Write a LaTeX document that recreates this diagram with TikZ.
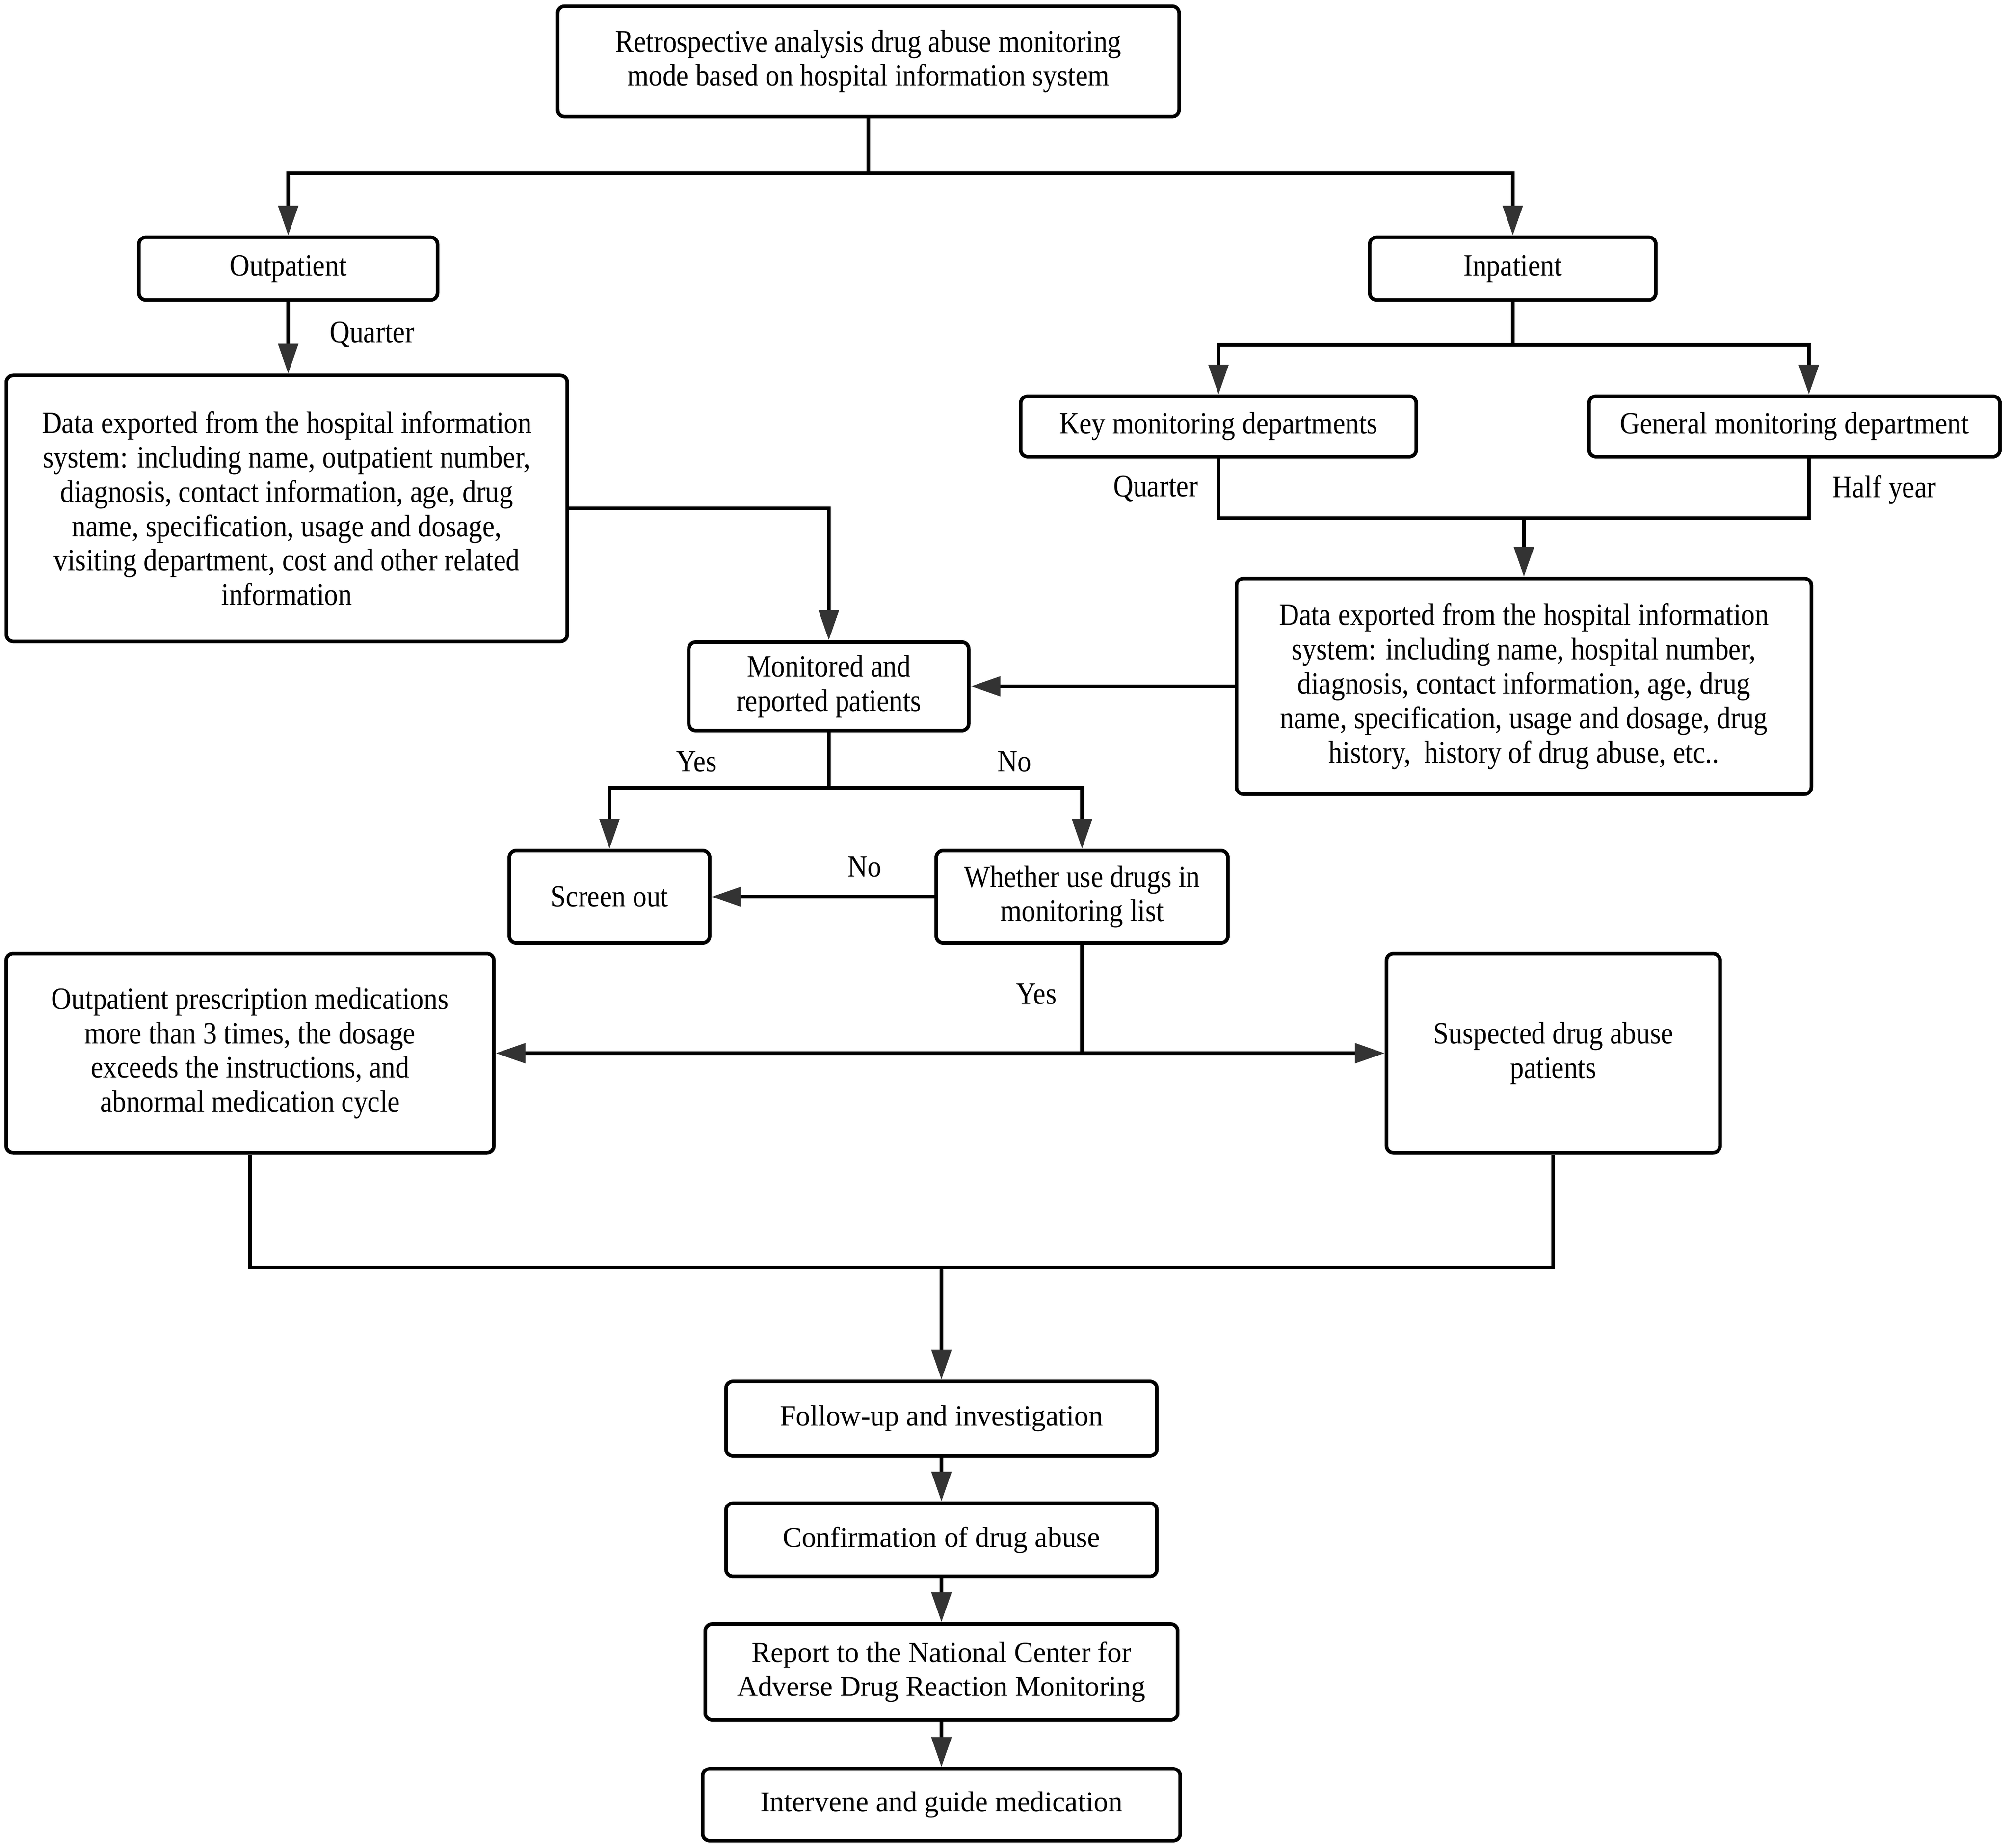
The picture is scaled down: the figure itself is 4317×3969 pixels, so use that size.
\documentclass[tikz,border=0pt]{standalone}
\usepackage{fontspec}
\setmainfont[FakeStretch=0.89]{Liberation Serif}
\newfontfamily\plainserif{Liberation Serif}
\usetikzlibrary{arrows.meta}
\definecolor{tipgray}{HTML}{333333}
\begin{document}
\begin{tikzpicture}[x=0.01cm,y=-0.01cm,
  box/.style={draw=black,line width=2.2pt,rounded corners=0.15cm,align=center,inner sep=0pt,
    font=\fontsize{19}{21}\selectfont},
  lowbox/.style={box,font=\plainserif\fontsize{17.5}{21}\selectfont},
  lbl/.style={font=\fontsize{19}{21}\selectfont,inner sep=0pt},
  conn/.style={line width=2.2pt,draw=black},
  arr/.style={conn,-{Triangle[length=0.64cm,width=0.42cm,color=tipgray]}}]
\useasboundingbox (0,0) rectangle (4317,3969);
\fill[white] (0,0) rectangle (4317,3969);
% nodes
\node[box,minimum width=13.34cm,minimum height=2.37cm] (top) at (1865,132) {Retrospective analysis drug abuse monitoring\\mode based on hospital information system};
\node[box,minimum width=6.41cm,minimum height=1.35cm] (outp) at (619,577) {Outpatient};
\node[box,minimum width=6.14cm,minimum height=1.35cm] (inp) at (3249,577) {Inpatient};
\node[box,minimum width=12.04cm,minimum height=5.71cm] (ldata) at (616,1092) {Data exported from the hospital information\\system: including name, outpatient number,\\diagnosis, contact information, age, drug\\name, specification, usage and dosage,\\visiting department, cost and other related\\information};
\node[box,minimum width=6.01cm,minimum height=1.90cm] (mon) at (1780,1474) {Monitored and\\reported patients};
\node[box,minimum width=8.49cm,minimum height=1.30cm] (key) at (2617,916) {Key monitoring departments};
\node[box,minimum width=8.82cm,minimum height=1.30cm] (gen) at (3854,916) {General monitoring department};
\node[box,minimum width=12.34cm,minimum height=4.63cm] (rdata) at (3273,1474) {Data exported from the hospital information\\system: including name, hospital number,\\diagnosis, contact information, age, drug\\name, specification, usage and dosage, drug\\history,\ \ history of drug abuse, etc..};
\node[box,minimum width=4.30cm,minimum height=1.98cm] (scr) at (1309,1926) {Screen out};
\node[box,minimum width=6.26cm,minimum height=1.98cm] (wh) at (2324,1926) {Whether use drugs in\\monitoring list};
\node[box,minimum width=10.47cm,minimum height=4.27cm] (lbot) at (537,2262) {Outpatient prescription medications\\more than 3 times, the dosage\\exceeds the instructions, and\\abnormal medication cycle};
\node[box,minimum width=7.16cm,minimum height=4.27cm] (susp) at (3336,2262) {Suspected drug abuse\\patients};
\node[lowbox,minimum width=9.25cm,minimum height=1.60cm] (fu) at (2022,3047) {Follow-up and investigation};
\node[lowbox,minimum width=9.25cm,minimum height=1.57cm] (conf) at (2022,3307) {Confirmation of drug abuse};
\node[lowbox,minimum width=10.14cm,minimum height=2.06cm] (rep) at (2022,3591) {Report to the National Center for\\Adverse Drug Reaction Monitoring};
\node[lowbox,minimum width=10.25cm,minimum height=1.54cm] (intv) at (2022,3876) {Intervene and guide medication};
% labels
\node[lbl] (q1) at (799,719) {Quarter};
\node[lbl] (q2) at (2482,1050) {Quarter};
\node[lbl] (hy) at (4047,1052) {Half year};
\node[lbl] (y1) at (1496,1636) {Yes};
\node[lbl] (n1) at (2179,1636) {No};
\node[lbl] (n2) at (1857,1862) {No};
\node[lbl] (y2) at (2226,2135) {Yes};
% junctions
\coordinate (j1) at (1865,372);
\coordinate (j2) at (3249,741);
\coordinate (j2r) at (3885,741);
\coordinate (j3) at (2617,1113);
\coordinate (j4) at (3885,1113);
\coordinate (j5) at (3273,1113);
\coordinate (j6) at (1780,1692);
\coordinate (j7) at (2324,2262);
\coordinate (j8) at (537,2722);
\coordinate (j9) at (3336,2722);
\coordinate (j10) at (2022,2722);
% connectors
\draw[conn] (top.south) -- (j1);
\draw[arr] (j1) -| (outp.north);
\draw[arr] (j1) -| (inp.north);
\draw[arr] (outp.south) -- (outp.south |- ldata.north);
\draw[arr] (ldata.east) -| (mon.north);
\draw[conn] (inp.south) -- (j2);
\draw[arr] (j2) -| (key.north);
\draw[arr] (j2) -- (j2r) -- (j2r |- gen.north);
\draw[conn] (key.south) -- (j3) -- (j4) -- (j4 |- gen.south);
\draw[arr] (j5) -- (rdata.north);
\draw[arr] (rdata.west) -- (mon.east);
\draw[conn] (mon.south) -- (j6);
\draw[arr] (j6) -| (scr.north);
\draw[arr] (j6) -| (wh.north);
\draw[arr] (wh.west) -- (scr.east);
\draw[conn] (wh.south) -- (j7);
\draw[arr] (j7) -- (lbot.east);
\draw[arr] (j7) -- (susp.west);
\draw[conn] (lbot.south) -- (j8) -- (j9) -- (susp.south);
\draw[arr] (j10) -- (fu.north);
\draw[arr] (fu.south) -- (conf.north);
\draw[arr] (conf.south) -- (rep.north);
\draw[arr] (rep.south) -- (intv.north);
\end{tikzpicture}
\end{document}
